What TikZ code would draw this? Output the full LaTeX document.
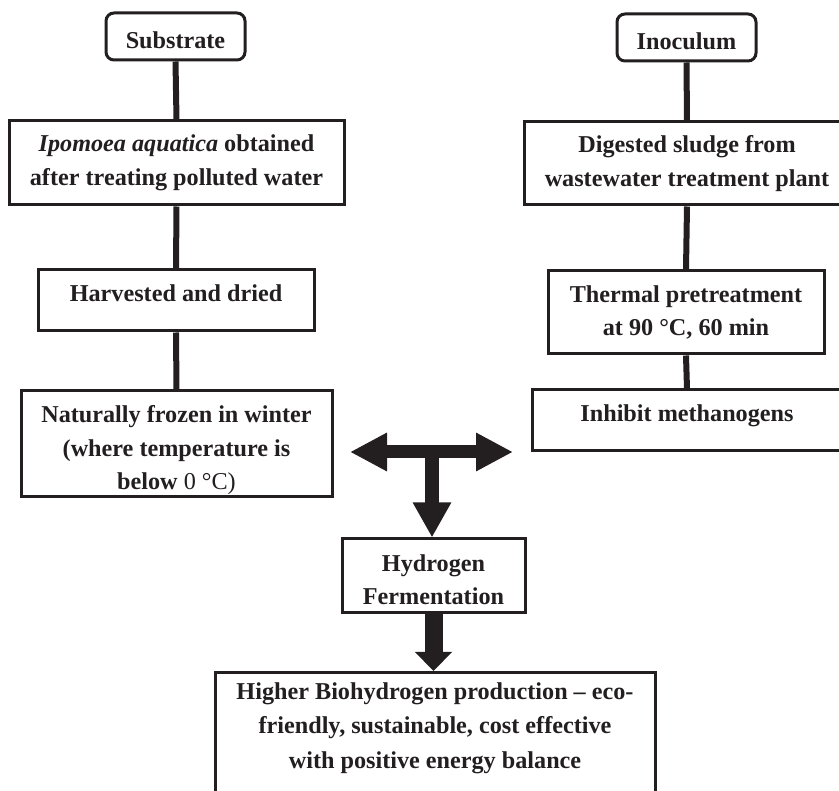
\documentclass[tikz,border=0pt]{standalone}
\usepackage{fontspec}
\setmainfont{Liberation Serif}
\usetikzlibrary{arrows.meta}
\definecolor{ink}{HTML}{231F20}
\begin{document}
\begin{tikzpicture}[x=1pt,y=-1pt,
  box/.style={draw=ink, line width=3pt, fill=white, inner sep=0pt, align=center,
    font=\bfseries\fontsize{24.2}{33.5}\selectfont, text=ink},
  rbox/.style={box, rounded corners=8pt},
  plain/.style={inner sep=0pt, align=center, font=\bfseries\fontsize{24.2}{34.5}\selectfont, text=ink},
  link/.style={draw=ink, line width=6pt},
  bigarrow/.style={draw=ink, line width=13pt}]
\useasboundingbox (0,0) rectangle (839,791);
\clip (0,0) rectangle (839,791);
% left column
\node[rbox, minimum width=139pt, minimum height=47pt, text height=24pt, text depth=0pt] (sub) at (175.5,36.5) {Substrate};
\node[box, minimum width=335pt, minimum height=84pt] (ipo) at (176.5,163) {\textit{Ipomoea aquatica} obtained\\after treating polluted water};
\node[box, minimum width=276pt, minimum height=61pt, text height=16.5pt, text depth=14pt] (harv) at (176,300.5) {Harvested and dried};
\node[box, minimum width=311pt, minimum height=106pt] (froz) at (176.5,444) {\rule{0pt}{30pt}Naturally frozen in winter\\(where temperature is\\below {\mdseries 0 °C)}};
% right column
\node[rbox, minimum width=139pt, minimum height=47pt, text height=24.5pt, text depth=0pt] (inoc) at (686.5,37.5) {Inoculum};
\node[box, minimum width=326pt, minimum height=83pt] (dig) at (687,163.5) {Digested sludge from\\wastewater treatment plant};
\node[box, minimum width=276pt, minimum height=83pt] (therm) at (686,312.5) {Thermal pretreatment\\at 90 °C, 60 min};
\node[box, minimum width=310pt, minimum height=61pt, text height=16.5pt, text depth=15pt] (inhib) at (687,420.5) {Inhibit methanogens};
% centre
\node[box, minimum width=183pt, minimum height=74pt] (hf) at (433.5,576) {\rule{0pt}{24.5pt}Hydrogen\\Fermentation};
\node[box, minimum width=440pt, minimum height=150pt, anchor=north] (bot) at (435,671) {};
\node[plain] (bottxt) at (435,728) {Higher Biohydrogen production – eco-\\friendly, sustainable, cost effective\\with positive energy balance};
% links
\draw[link] (sub.south) -- (ipo.north);
\draw[link] (ipo.south) -- (harv.north);
\draw[link] (harv.south) -- (froz.north);
\draw[link] (inoc.south) -- (dig.north);
\draw[link] (dig.south) -- (therm.north);
\draw[link] (therm.south) -- (inhib.north);
% arrows
\coordinate (hl) at (350,452);
\coordinate (hr) at (513,452);
\coordinate (hm) at (432,452);
\draw[bigarrow, {Triangle[length=37pt,width=36pt]}-{Triangle[length=37pt,width=36pt]}] (hl) -- (hr);
\draw[bigarrow, line width=14pt, -{Triangle[length=35pt,width=36pt]}] (hm) -- (hm |- hf.north);
\draw[bigarrow, line width=18pt, -{Triangle[length=19pt,width=36pt]}] (hf.south) -- (hf.south |- bot.north);
\end{tikzpicture}
\end{document}
